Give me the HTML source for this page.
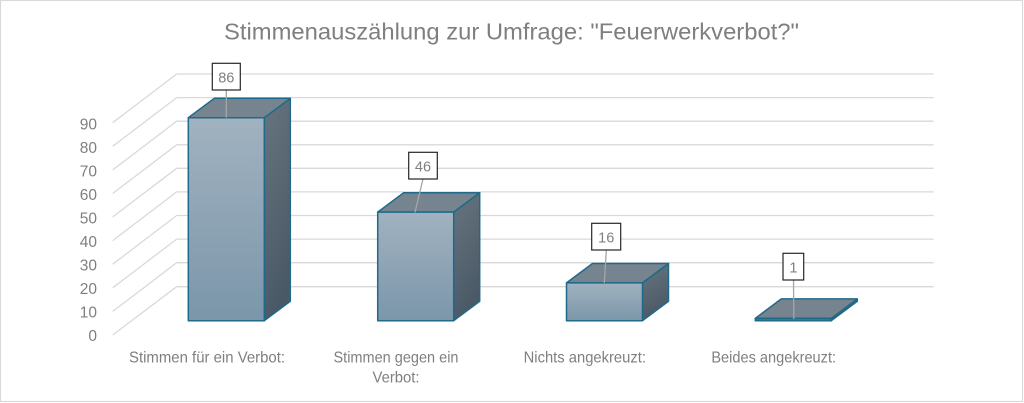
<!DOCTYPE html>
<html><head><meta charset="utf-8"><style>
html,body{margin:0;padding:0;background:#fff;}
svg{display:block;}
text{font-family:"Liberation Sans",Arial,sans-serif;fill:#7f7f7f;}
</style></head><body>
<svg width="1024" height="403" viewBox="0 0 1024 403" xmlns="http://www.w3.org/2000/svg">
<defs>
<linearGradient id="gf" x1="0" y1="0" x2="0" y2="1"><stop offset="0" stop-color="#a1b2c0"/><stop offset="1" stop-color="#7b96aa"/></linearGradient>
<linearGradient id="gs" x1="0" y1="0" x2="0.3" y2="1"><stop offset="0" stop-color="#67757f"/><stop offset="1" stop-color="#4a5966"/></linearGradient>
</defs>
<rect x="0.5" y="0.5" width="1022" height="401" fill="#fff" stroke="#d9d9d9" stroke-width="1.2"/>
<text x="511.5" y="39.3" font-size="23" text-anchor="middle" textLength="575" lengthAdjust="spacingAndGlyphs">Stimmenauszählung zur Umfrage: "Feuerwerkverbot?"</text>
<g stroke="#d9d9d9" stroke-width="1.3" fill="none">
<path d="M176.7 74 H933.7 M176.7 74 L112.7 122.7"/>
<path d="M176.7 97.6 H933.7 M176.7 97.6 L112.7 146.3"/>
<path d="M176.7 121.2 H933.7 M176.7 121.2 L112.7 169.9"/>
<path d="M176.7 144.8 H933.7 M176.7 144.8 L112.7 193.5"/>
<path d="M176.7 168.3 H933.7 M176.7 168.3 L112.7 217"/>
<path d="M176.7 191.9 H933.7 M176.7 191.9 L112.7 240.6"/>
<path d="M176.7 215.5 H933.7 M176.7 215.5 L112.7 264.2"/>
<path d="M176.7 239.1 H933.7 M176.7 239.1 L112.7 287.8"/>
<path d="M176.7 262.7 H933.7 M176.7 262.7 L112.7 311.4"/>
<path d="M176.7 286.7 H933.7 M176.7 286.7 L112.7 335"/>
</g>
<g font-size="15.5" text-anchor="end">
<text x="97" y="129.3">90</text>
<text x="97" y="152.8">80</text>
<text x="97" y="176.3">70</text>
<text x="97" y="199.8">60</text>
<text x="97" y="223.3">50</text>
<text x="97" y="246.8">40</text>
<text x="97" y="270.3">30</text>
<text x="97" y="293.8">20</text>
<text x="97" y="317.3">10</text>
<text x="97" y="340.8">0</text>
</g>
<g stroke="#1f6a8a" stroke-width="1.5" stroke-linejoin="round">
<polygon points="264.3,117.7 290.3,98.3 290.3,301.3 264.3,320.7" fill="url(#gs)"/>
<polygon points="188.3,117.7 214.3,98.3 290.3,98.3 264.3,117.7" fill="#76848f"/>
<rect x="188.3" y="117.7" width="76" height="203" fill="url(#gf)"/>
<polygon points="453.7,212.1 479.7,192.7 479.7,301.3 453.7,320.7" fill="url(#gs)"/>
<polygon points="377.7,212.1 403.7,192.7 479.7,192.7 453.7,212.1" fill="#76848f"/>
<rect x="377.7" y="212.1" width="76" height="108.6" fill="url(#gf)"/>
<polygon points="642.5,282.9 668.5,263.5 668.5,301.3 642.5,320.7" fill="url(#gs)"/>
<polygon points="566.5,282.9 592.5,263.5 668.5,263.5 642.5,282.9" fill="#76848f"/>
<rect x="566.5" y="282.9" width="76" height="37.8" fill="url(#gf)"/>
<polygon points="831.3,318.3 857.3,298.9 857.3,301.3 831.3,320.7" fill="#4f5e6b"/>
<polygon points="755.3,318.3 781.3,298.9 857.3,298.9 831.3,318.3" fill="#76848f"/>
<rect x="755.3" y="318.3" width="76" height="2.4" fill="#3f7591"/>
</g>
<g stroke="#a6a6a6" stroke-width="1.3">
<line x1="226.3" y1="90" x2="226.3" y2="117.7"/>
<line x1="423" y1="179" x2="415" y2="212.3"/>
<line x1="606.3" y1="250" x2="604.3" y2="283"/>
<line x1="793.5" y1="280" x2="793.8" y2="319"/>
</g>
<g fill="#fff" stroke="#262626" stroke-width="1.2">
<rect x="212.3" y="63.3" width="28" height="26.7"/>
<rect x="408.7" y="152.3" width="28.6" height="26.7"/>
<rect x="591.7" y="223.3" width="29" height="26.7"/>
<rect x="783" y="253.3" width="20.7" height="26.7"/>
</g>
<g font-size="14.5" text-anchor="middle">
<text x="226.3" y="82.3">86</text>
<text x="423" y="171.3">46</text>
<text x="606.2" y="242.3">16</text>
<text x="793.4" y="272.3">1</text>
</g>
<g font-size="16" text-anchor="middle">
<text x="207" y="362.7" textLength="156" lengthAdjust="spacingAndGlyphs">Stimmen für ein Verbot:</text>
<text x="396" y="362.7" textLength="125" lengthAdjust="spacingAndGlyphs">Stimmen gegen ein</text>
<text x="396" y="382.7" textLength="47" lengthAdjust="spacingAndGlyphs">Verbot:</text>
<text x="584.8" y="362.7" textLength="122.3" lengthAdjust="spacingAndGlyphs">Nichts angekreuzt:</text>
<text x="773.7" y="362.7" textLength="124.7" lengthAdjust="spacingAndGlyphs">Beides angekreuzt:</text>
</g>
</svg>
</body></html>
